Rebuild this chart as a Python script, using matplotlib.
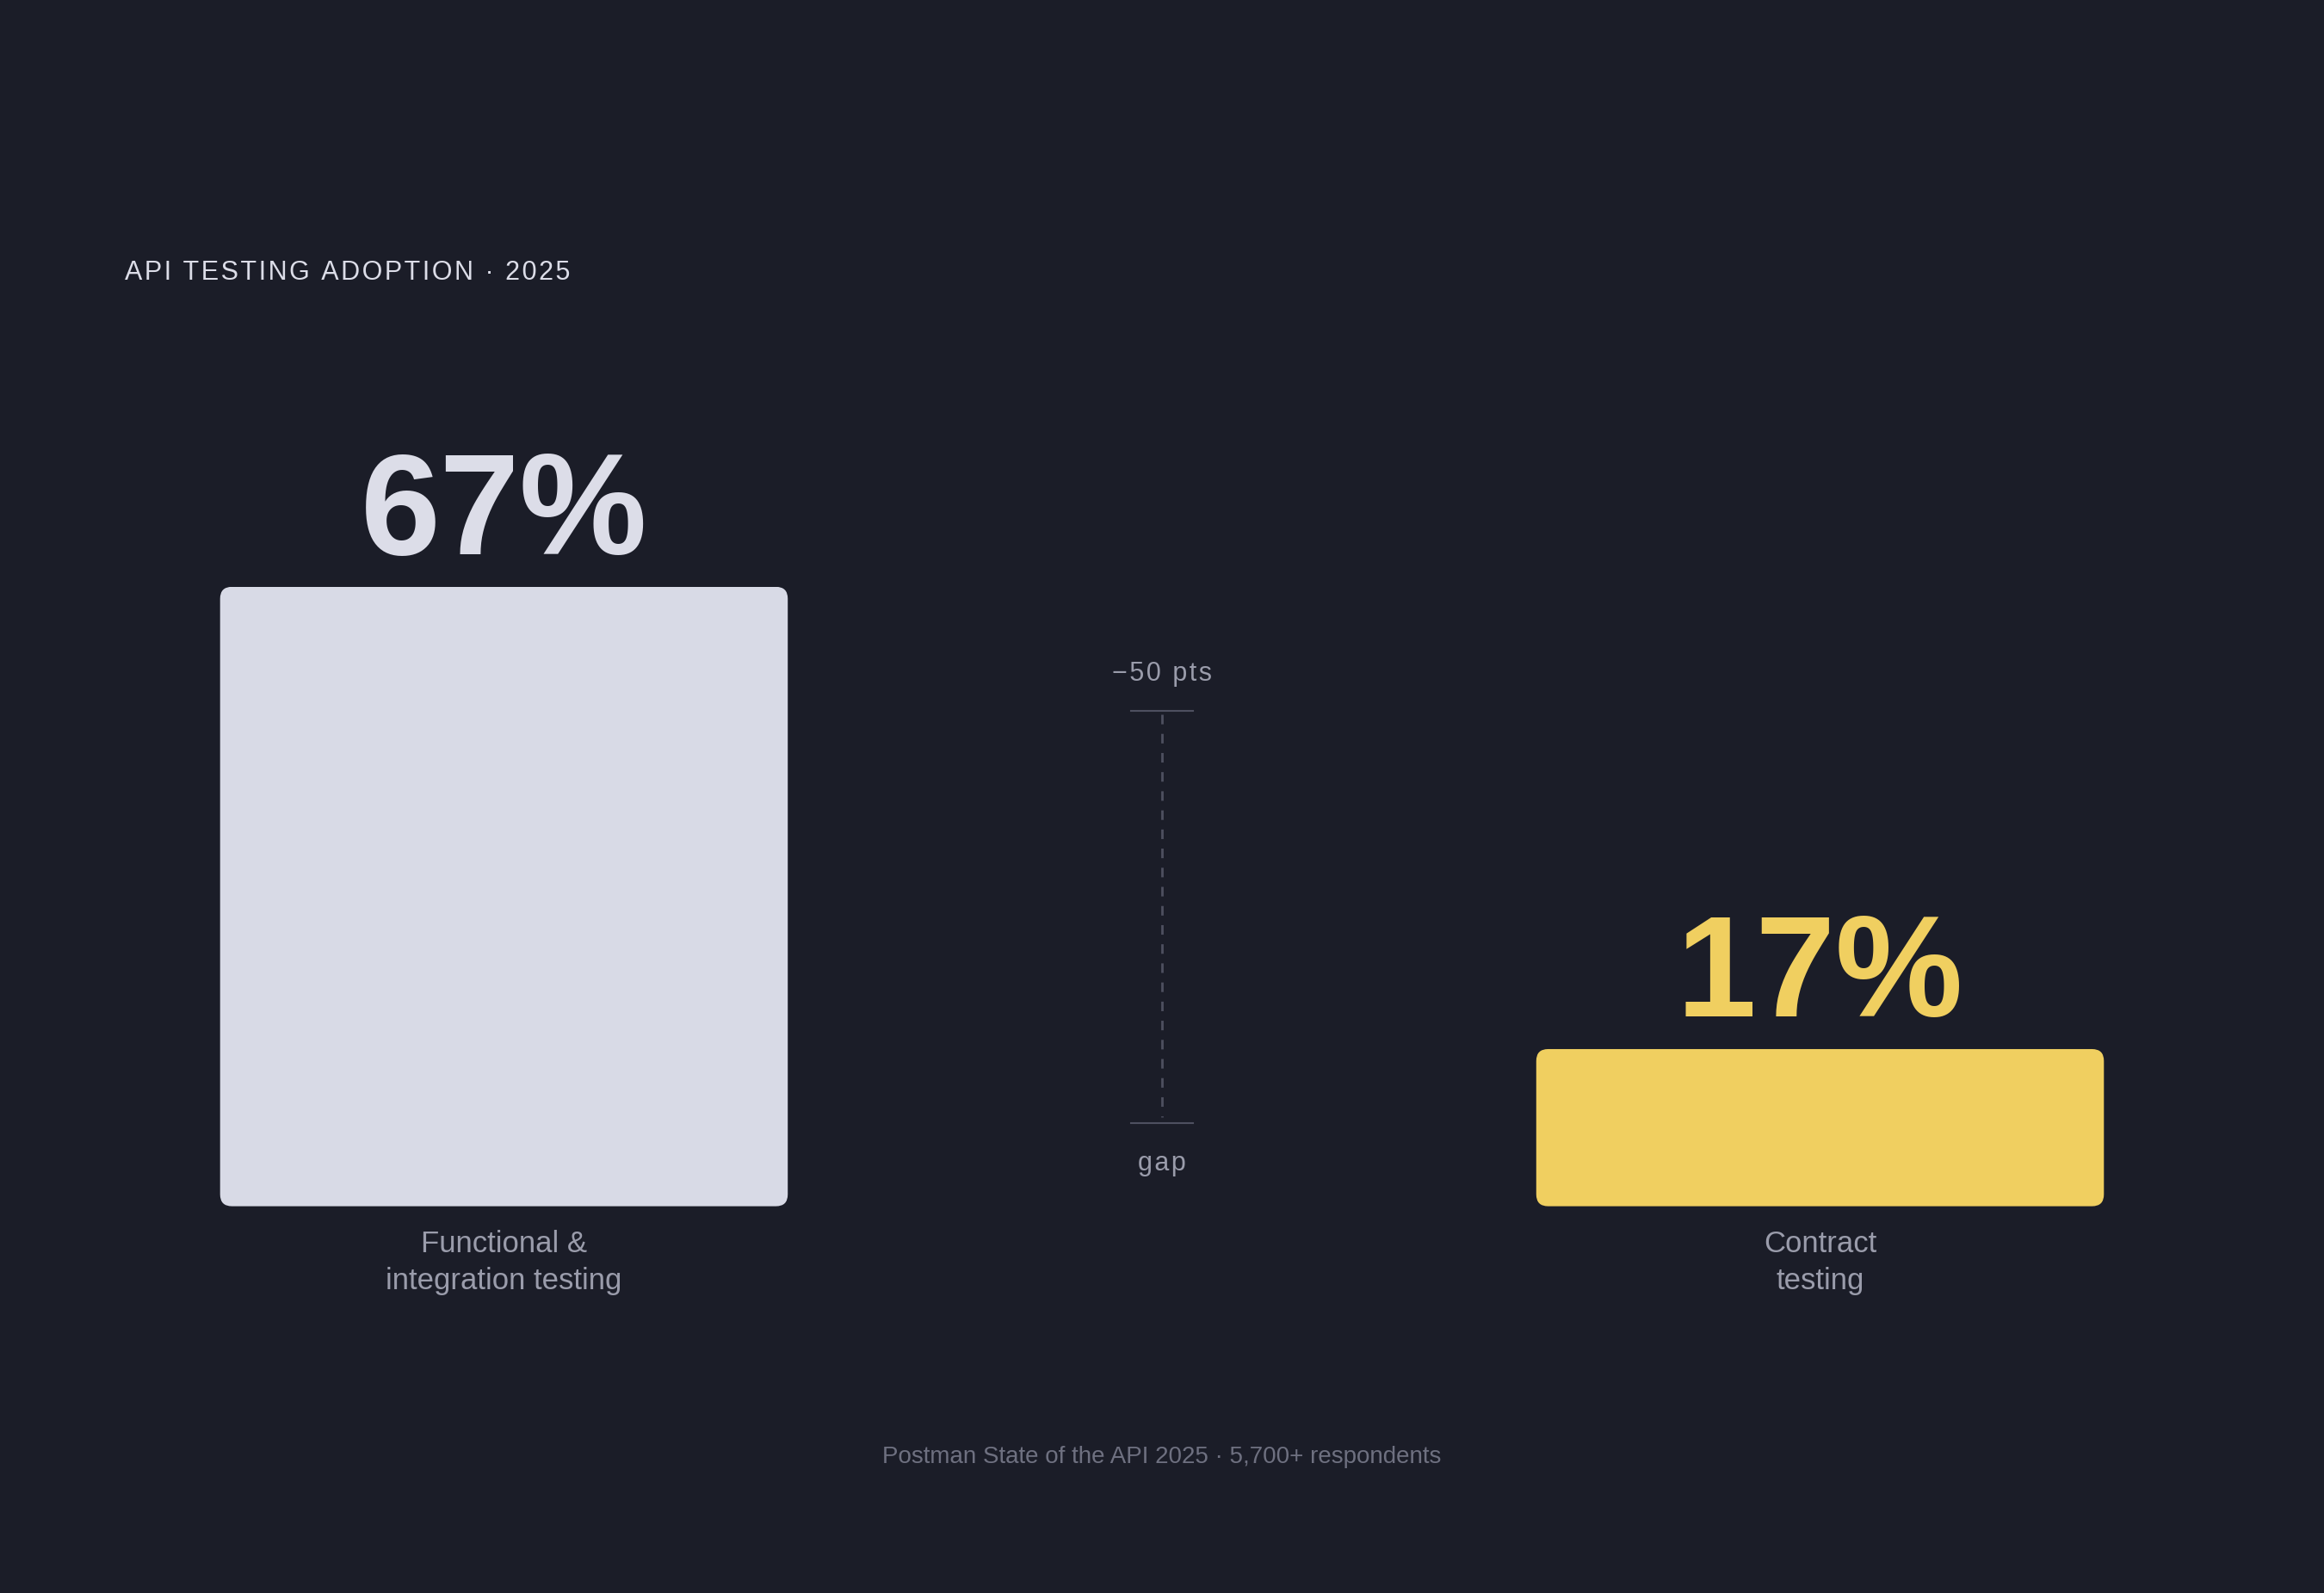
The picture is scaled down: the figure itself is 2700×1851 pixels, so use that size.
import matplotlib
matplotlib.use("Agg")
import matplotlib.pyplot as plt
from matplotlib.patches import FancyBboxPatch

categories = ["Functional &\nintegration testing", "Contract\ntesting"]
values = [67, 17]
value_labels = ["67%", "17%"]
gap_label = "\u221250 pts"
title = "API TESTING ADOPTION \u00b7 2025"
footer = "Postman State of the API 2025 \u00b7 5,700+ respondents"

BG = "#1b1d28"
colors = ["#d8dae6", "#f0cf60"]
num_colors = ["#dcdde8", "#f0cf60"]
FAM = ["Liberation Sans", "DejaVu Sans"]

W, H = 1568, 1075
fig = plt.figure(figsize=(27, 18.51), dpi=100, facecolor=BG)
tx = fig.add_axes([0, 0, 1, 1])
tx.set_xlim(0, W); tx.set_ylim(H, 0); tx.axis("off"); tx.set_facecolor(BG)

base, top = 814, 396
bx = fig.add_axes([0, 1 - base / H, 1, (base - top) / H])
bx.set_xlim(0, W); bx.set_ylim(0, 67); bx.axis("off"); bx.patch.set_alpha(0)

xs = [340, 1228]
bars = bx.bar(xs, values, width=383, color=colors)
pxper = (base - top) / 67.0
for b, c in zip(bars, colors):
    b.set_visible(False)
    p = FancyBboxPatch((b.get_x(), b.get_y()), b.get_width(), b.get_height(),
                       boxstyle="round,pad=0,rounding_size=8",
                       mutation_aspect=1 / pxper, fc=c, ec="none")
    bx.add_patch(p)
    
for x, v, lab, nc, cat in zip(xs, values, value_labels, num_colors, categories):
    ytop = base - v * pxper
    tx.text(x, ytop - 22, lab, ha="center", va="baseline", fontsize=120,
            fontweight="bold", color=nc, family=FAM)
    tx.text(x, 852, cat, ha="center", va="center", fontsize=25, color="#9a9cab",
            family=FAM, linespacing=1.35)

def spaced(s):
    return "\u200a".join(s)

tx.text(84, 184, spaced(title), ha="left", va="center", fontsize=22,
        color="#dcdde8", family=FAM)
tx.text(784, 455, spaced(gap_label), ha="center", va="center", fontsize=22,
        color="#9a9cab", family=FAM)
tx.text(784, 785, spaced("gap"), ha="center", va="center", fontsize=22,
        color="#9a9cab", family=FAM)
lc = "#4e5060"
tx.plot([784, 784], [482, 754], color=lc, lw=2, ls=(0, (4, 4)))
tx.plot([763, 805], [480, 480], color=lc, lw=1.5)
tx.plot([763, 805], [758, 758], color=lc, lw=1.5)
tx.text(784, 983, footer, ha="center", va="center", fontsize=20,
        color="#6e7080", family=FAM)

fig.savefig("out.png", dpi=100, facecolor=BG)
